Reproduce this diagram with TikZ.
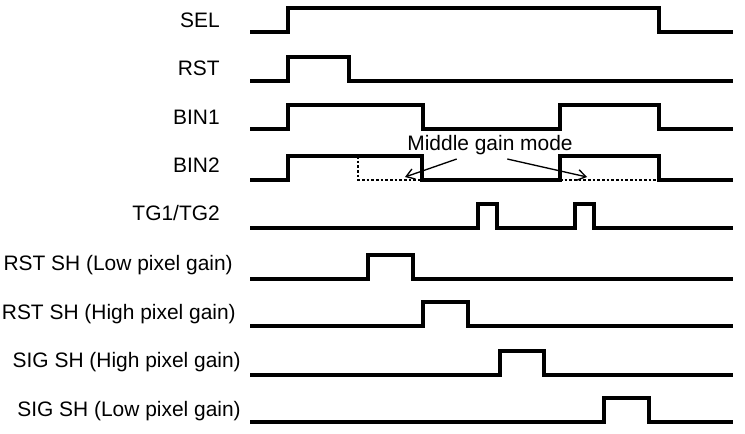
\documentclass[tikz,border=0pt]{standalone}
\usepackage{fontspec}
\setmainfont{Liberation Sans}
\usetikzlibrary{arrows.meta}
\begin{document}
\begin{tikzpicture}[x=0.75pt,y=-0.75pt,
  wave/.style={line width=2.4pt},
  alt/.style={line width=1pt,dash pattern=on 2pt off 1.5pt},
  lbl/.style={anchor=east,inner sep=0pt,font=\fontsize{15.7}{18}\selectfont},
  note/.style={-{Straight Barb[length=6pt,width=8pt]},line width=1pt}]
\useasboundingbox (0,0) rectangle (745,433);
% signal names
\foreach \n/\x/\y/\t in {
  sel/220/20/SEL,
  rst/220/68/RST,
  binA/220/117/BIN1,
  binB/220/165/BIN2,
  tg/220/213/{TG1/TG2},
  rshL/233/265/{RST SH (Low pixel gain)},
  rshH/236/314/{RST SH (High pixel gain)},
  sshH/241/362/{SIG SH (High pixel gain)},
  sshL/241/411/{SIG SH (Low pixel gain)}}
    \node[lbl] (\n) at (\x,\y) {\t};
% single pulses
\foreach \y/\a/\b in {
  32/288/659,
  81/288/349,
  279/368/413,
  326/423/468,
  375/500/544,
  422/604/649}
    \draw[wave] (250,\y) -| (\a,\y-24) -| (\b,\y) -- (733,\y);
% BIN1, BIN2, TG1/TG2
\draw[wave] (250,129) -| (288,105) -| (423,129) -| (560,105) -| (659,129) -- (733,129);
\draw[wave] (250,180) -| (288,156) -| (422,180) -| (560,156) -| (659,180) -- (733,180);
\draw[wave] (250,228) -| (478,204) -| (497,228) -| (575,204) -| (594,228) -- (733,228);
\draw[alt] (358,156) -- (358,180) -- (422,180);
\draw[alt] (560,180) -- (659,180);
% middle gain mode
\node[inner sep=0pt,font=\fontsize{15.7}{18}\selectfont] (mgm) at (490,145) {Middle gain mode};
\coordinate (mgmL) at (405,177);
\coordinate (mgmR) at (587,177);
\draw[note] ([xshift=-25pt,yshift=-3pt]mgm.south) -- (mgmL);
\draw[note] ([xshift=13pt,yshift=-3pt]mgm.south) -- (mgmR);
\end{tikzpicture}
\end{document}
